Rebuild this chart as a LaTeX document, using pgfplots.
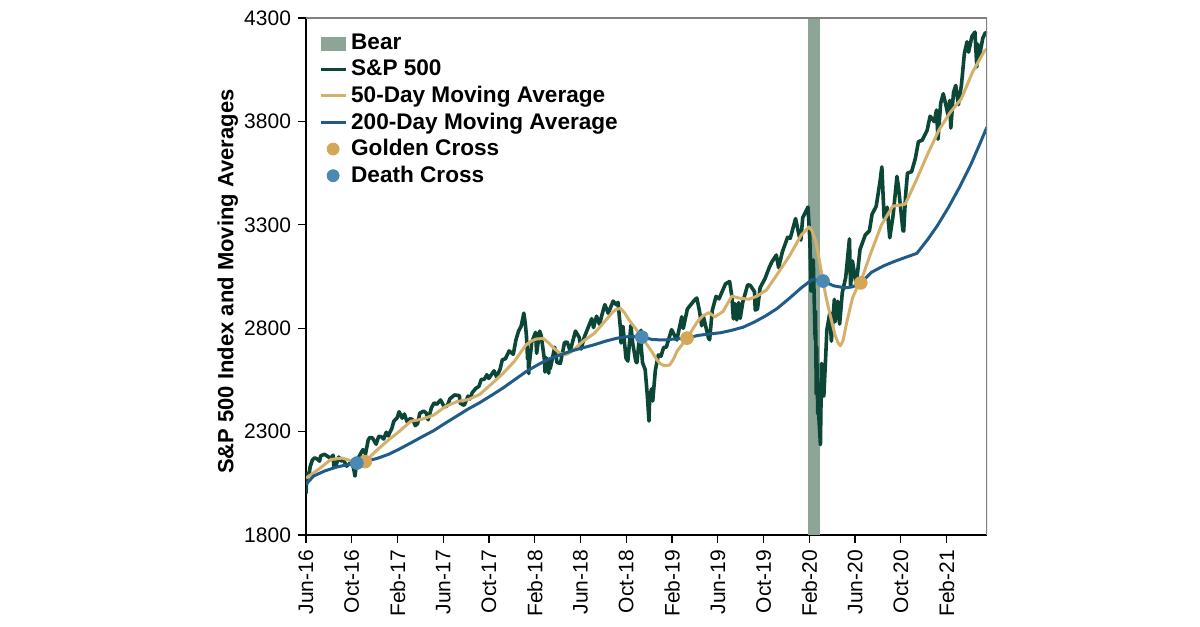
\documentclass[border=0pt]{standalone}
\usepackage{fontspec}
\setmainfont{Liberation Sans}
\usepackage{pgfplots}
\pgfplotsset{compat=1.18}
\definecolor{spgreen}{HTML}{0B4636}
\definecolor{mafifty}{HTML}{D5B06A}
\definecolor{matwo}{HTML}{1F5C88}
\definecolor{goldm}{HTML}{D4A655}
\definecolor{deathm}{HTML}{4A89B3}
\definecolor{bear}{HTML}{8DA597}
\begin{document}
\begin{tikzpicture}
\path[use as bounding box] (-153bp,-46bp) rectangle (447bp,267.5bp);
\begin{axis}[
  at={(0,0)}, anchor=south west,
  scale only axis, width=340.5bp, height=258.5bp,
  xmin=0, xmax=1807, ymin=1800, ymax=4300,
  ytick={1800,2300,2800,3300,3800,4300},
  xtick={0,121.4,242.8,364.2,485.6,607,728.4,849.8,971.2,1092.6,1214,1335.4,1456.8,1578.2,1699.6},
  xticklabels={Jun-16,Oct-16,Feb-17,Jun-17,Oct-17,Feb-18,Jun-18,Oct-18,Feb-19,Jun-19,Oct-19,Feb-20,Jun-20,Oct-20,Feb-21},
  xticklabel style={rotate=90, anchor=east},
  tick label style={font=\fontsize{10.5bp}{12bp}\selectfont},
  /pgf/number format/assume math mode=true,
  /pgf/number format/1000 sep={},
  axis x line*=bottom, axis y line*=left,
  axis line style={black, line width=0.6bp},
  tick style={black, line width=0.6bp},
  tick align=outside, major tick length=4bp,
  ylabel={S\&P 500 Index and Moving Averages},
  ylabel style={font=\fontsize{11bp}{13bp}\selectfont\bfseries, at={(axis description cs:-0.115,0.49)}, anchor=center},
  legend style={at={(axis description cs:0.0187,0.977)}, anchor=north west, draw=none, fill=none,
    font=\fontsize{11.3bp}{13bp}\selectfont\bfseries, row sep=-0.35bp, inner sep=0pt},
  legend cell align=left,
  clip=true,
]
\addplot[fill=bear, draw=none, legend image code/.code={\fill[bear] (1.5bp,-3.5bp) rectangle (14bp,3.5bp);}]
  coordinates {(1332,4300) (1364,4300)} \closedcycle;
\addlegendentry{Bear}
\addplot[spgreen, line width=1.8bp, line join=round, legend image code/.code={\draw[spgreen, line width=1.5bp] (1.5bp,0bp) -- (14bp,0bp);}] coordinates {
(0,2000) (1,2036) (3,2099) (8,2089) (11,2130) (17,2163) (23,2173) (30,2167) (36,2157) (39,2183)
(49,2190) (56,2182) (65,2171) (72,2186) (74,2128) (78,2127) (87,2177) (92,2159) (100,2160) (108,2133)
(119,2151) (126,2126) (130,2085) (135,2163) (141,2180) (151,2213) (158,2192) (165,2259) (169,2271) (176,2270)
(186,2239) (193,2277) (200,2275) (206,2264) (213,2297) (218,2279) (228,2316) (233,2350) (242,2367) (247,2396)
(255,2365) (261,2385) (268,2348) (277,2363) (284,2355) (290,2329) (296,2338) (302,2389) (312,2399) (319,2390)
(324,2357) (333,2416) (340,2439) (347,2432) (357,2453) (367,2419) (375,2425) (382,2459) (394,2477) (407,2474)
(409,2438) (416,2430) (420,2428) (430,2472) (435,2457) (441,2488) (450,2508) (459,2519) (465,2552) (473,2553)
(480,2575) (485,2557) (499,2594) (506,2564) (515,2602) (521,2648) (529,2652) (539,2690) (550,2674) (557,2743)
(564,2786) (571,2810) (578,2873) (582,2822) (585,2762) (588,2649) (589,2695) (591,2581) (592,2620) (597,2698)
(599,2732) (609,2780) (612,2678) (620,2786) (624,2765) (633,2643) (634,2588) (637,2658) (644,2582) (646,2645)
(648,2604) (660,2708) (666,2634) (675,2630) (686,2731) (693,2733) (701,2690) (715,2786) (725,2755) (730,2699)
(739,2760) (750,2809) (758,2846) (763,2803) (771,2858) (779,2818) (785,2863) (793,2914) (802,2872) (815,2931)
(823,2914) (828,2925) (835,2786) (836,2728) (841,2809) (849,2656) (854,2641) (858,2723) (862,2814) (867,2726)
(875,2641) (878,2633) (885,2760) (889,2790) (890,2700) (893,2633) (900,2600) (906,2467) (910,2351) (912,2468)
(917,2507) (920,2448) (927,2597) (935,2671) (942,2665) (949,2707) (956,2708) (970,2793) (984,2743) (997,2855)
(1001,2799) (1012,2893) (1030,2934) (1037,2946) (1044,2884) (1050,2812) (1054,2860) (1068,2752) (1071,2744) (1078,2886)
(1088,2954) (1096,2942) (1113,3014) (1124,3026) (1130,2954) (1134,2845) (1138,2919) (1143,2840) (1148,2924) (1152,2847)
(1159,2926) (1172,3010) (1179,3007) (1190,2977) (1192,2888) (1198,2893) (1205,2996) (1218,3040) (1229,3093) (1236,3120)
(1248,3154) (1254,3093) (1264,3169) (1278,3240) (1285,3235) (1299,3330) (1309,3244) (1313,3226) (1318,3334) (1332,3386)
(1337,3226) (1340,2979) (1345,3003) (1346,3130) (1351,2747) (1352,2882) (1354,2481) (1355,2711) (1358,2386) (1360,2398)
(1365,2237) (1368,2630) (1374,2471) (1379,2664) (1382,2790) (1390,2875) (1394,2737) (1402,2940) (1404,2831) (1411,2930)
(1416,2820) (1423,2972) (1432,3044) (1442,3232) (1445,3002) (1450,3125) (1460,3009) (1470,3180) (1484,3251) (1495,3271)
(1502,3351) (1513,3390) (1523,3508) (1528,3580) (1534,3332) (1542,3385) (1549,3237) (1558,3348) (1568,3534) (1572,3484)
(1584,3271) (1586,3270) (1591,3443) (1596,3550) (1607,3557) (1617,3622) (1625,3702) (1635,3709) (1648,3756) (1656,3825)
(1667,3799) (1673,3855) (1677,3714) (1684,3887) (1691,3934) (1704,3829) (1708,3901) (1711,3768) (1718,3939) (1724,3974)
(1731,3881) (1739,3973) (1747,4129) (1754,4185) (1758,4135) (1767,4211) (1775,4232) (1780,4063) (1782,4174) (1787,4116)
(1796,4204) (1803,4230) (1807,4227)
};
\addlegendentry{S\&P 500}
\addplot[mafifty, line width=1.5bp, line join=round, legend image code/.code={\draw[mafifty, line width=1.5bp] (1.5bp,0bp) -- (14bp,0bp);}] coordinates {
(0,2075) (35,2120) (66,2165) (96,2172) (127,2155) (135,2148) (146,2140) (157,2155) (188,2210) (219,2260)
(247,2300) (278,2350) (308,2360) (339,2380) (369,2420) (400,2445) (431,2455) (461,2480) (492,2530) (522,2580)
(553,2640) (584,2720) (600,2740) (612,2748) (630,2750) (643,2730) (660,2700) (673,2680) (690,2672) (704,2685) (734,2735) (765,2775)
(796,2840) (815,2880) (826,2893) (835,2895) (845,2875) (857,2840) (880,2785) (891,2757) (905,2720) (918,2685) (930,2650) (940,2628) (952,2618) (965,2622) (975,2650) (985,2690)
(1011,2752) (1038,2830) (1053,2860) (1069,2875) (1085,2855) (1106,2880) (1130,2955) (1151,2945) (1175,2940) (1197,2955)
(1222,2985) (1252,3065) (1283,3150) (1314,3250) (1335,3290) (1343,3270) (1352,3225) (1360,3150) (1372,3025) (1380,2950) (1390,2870) (1404,2765)
(1412,2728) (1418,2715) (1425,2740) (1435,2830) (1450,2945) (1465,3010) (1473,3030) (1496,3150) (1527,3300) (1557,3390) (1575,3395) (1590,3400)
(1618,3510) (1649,3640) (1680,3760) (1708,3840) (1739,3910) (1769,4040) (1800,4140) (1807,4150)
};
\addlegendentry{50-Day Moving Average}
\addplot[matwo, line width=1.5bp, line join=round, legend image code/.code={\draw[matwo, line width=1.5bp] (1.5bp,0bp) -- (14bp,0bp);}] coordinates {
(0,2045) (20,2085) (50,2110) (80,2128) (110,2140) (135,2148) (157,2155) (188,2170) (219,2190) (247,2215)
(278,2245) (308,2275) (339,2305) (369,2340) (400,2375) (431,2410) (461,2440) (492,2475) (522,2510) (553,2550)
(584,2590) (612,2620) (643,2650) (673,2670) (704,2690) (734,2705) (765,2720) (796,2738) (826,2752) (857,2760)
(891,2757) (920,2745) (950,2743) (980,2748) (1011,2752) (1040,2765) (1070,2772) (1100,2778) (1130,2790) (1160,2805)
(1190,2830) (1220,2860) (1250,2895) (1283,2945) (1314,2995) (1343,3035) (1372,3028) (1400,3005) (1430,2995) (1450,3000)
(1472,3019) (1500,3070) (1531,3100) (1560,3122) (1590,3142) (1621,3162) (1650,3230) (1675,3295) (1705,3385) (1735,3485)
(1765,3595) (1790,3700) (1807,3773)
};
\addlegendentry{200-Day Moving Average}
\addplot[only marks, mark=*, mark size=3.2bp, goldm, mark options={draw=goldm, fill=goldm},
  legend image code/.code={\fill[goldm] (7.75bp,0bp) circle (3bp);}] coordinates {(157,2155) (1011,2752) (1472,3019)};
\addlegendentry{Golden Cross}
\addplot[only marks, mark=*, mark size=3.2bp, deathm, mark options={draw=deathm, fill=deathm},
  legend image code/.code={\fill[deathm] (7.75bp,0bp) circle (3bp);}] coordinates {(135,2148) (891,2757) (1372,3028)};
\addlegendentry{Death Cross}
\draw[gray, line width=0.6bp] (rel axis cs:0,1) -- (rel axis cs:1,1) -- (rel axis cs:1,0);
\end{axis}
\end{tikzpicture}
\end{document}
